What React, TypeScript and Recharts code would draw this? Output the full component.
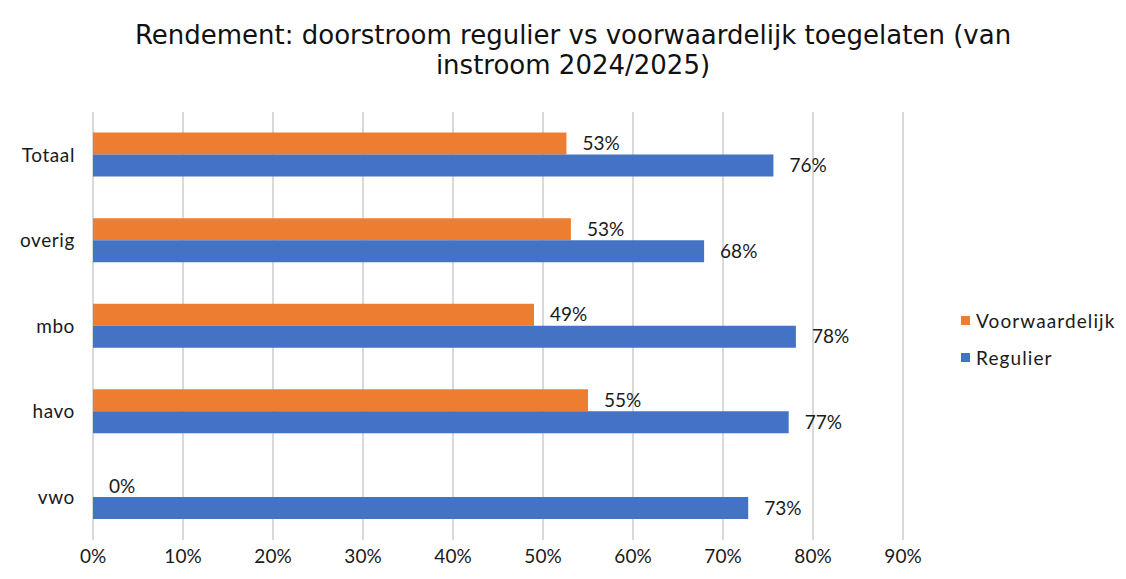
import React from "react";
import { BarChart, Bar, XAxis, YAxis, CartesianGrid, Legend, LabelList } from "recharts";

const categories = ["Totaal", "overig", "mbo", "havo", "vwo"];
const voorwaardelijk = [52.6, 53.1, 49.0, 55.0, 0];
const regulier = [75.6, 67.9, 78.1, 77.3, 72.8];
const xTicks = [0, 10, 20, 30, 40, 50, 60, 70, 80, 90];
const seriesNames = { voorwaardelijk: "Voorwaardelijk", regulier: "Regulier" };
const titleLines = ["Rendement: doorstroom regulier vs voorwaardelijk toegelaten (van", "instroom 2024/2025)"];

const data = categories.map((c, i) => ({
  name: c,
  voorwaardelijk: voorwaardelijk[i],
  regulier: regulier[i],
}));

const TITLE_FONT = "'DejaVu Sans', sans-serif";
const FONT = "Lato, sans-serif";
const ORANGE = "#ED7D31";
const BLUE = "#4472C4";
const TEXT = "#1a1a1a";
const LABEL_OFFSET = 16;

const LegendContent = () => (
  <div style={{ fontFamily: FONT, fontSize: 19, color: TEXT, letterSpacing: 1.1 }}>
    {[
      { name: seriesNames.voorwaardelijk, color: ORANGE },
      { name: seriesNames.regulier, color: BLUE },
    ].map((it) => (
      <div key={it.name} style={{ display: "flex", alignItems: "center", height: 37 }}>
        <span style={{ display: "inline-block", width: 9, height: 9, background: it.color, marginRight: 6 }} />
        <span>{it.name}</span>
      </div>
    ))}
  </div>
);

const fmt = (v: number) => `${Math.round(Number(v))}%`;

const ValueText = ({ x, y, value }: { x: number; y: number; value: number }) => (
  <text x={x} y={y} dy="0.35em" textAnchor="start" fontFamily={FONT} fontSize={19} fill={TEXT}>
    {fmt(value)}
  </text>
);

const OrangeLabel = (props: any) => {
  const { x, y, width, height, value } = props;
  if (value === undefined || value === null) return null;
  return <ValueText x={Number(x) + (Number(width) || 0) + LABEL_OFFSET} y={Number(y) + Number(height) / 2} value={value} />;
};

// Blue bar label; also renders the Voorwaardelijk label when that bar has zero length
// (Recharts skips zero-length bars, so their label would otherwise be lost).
const BlueLabel = (props: any) => {
  const { x, y, width, height, value, index } = props;
  if (value === undefined || value === null) return null;
  const h = Number(height);
  const zeroOrange = voorwaardelijk[index] === 0;
  return (
    <g>
      <ValueText x={Number(x) + (Number(width) || 0) + LABEL_OFFSET} y={Number(y) + h / 2} value={value} />
      {zeroOrange && <ValueText x={Number(x) + LABEL_OFFSET} y={Number(y) - h / 2} value={voorwaardelijk[index]} />}
    </g>
  );
};

export default function App() {
  return (
    <div style={{ position: "relative", width: 1126, height: 579, background: "#fff" }}>
      <style>{`body{margin:0}`}</style>
      <div
        style={{
          position: "absolute",
          left: 0,
          top: 20,
          width: 1146,
          textAlign: "center",
          fontFamily: TITLE_FONT,
          fontSize: 26,
          lineHeight: "30px",
          color: "#111",
        }}
      >
        {titleLines.map((l) => (
          <div key={l}>{l}</div>
        ))}
      </div>
      <BarChart
        width={1126}
        height={579}
        data={data}
        layout="vertical"
        margin={{ top: 112, right: 58, left: 13, bottom: 9 }}
        barCategoryGap="24%"
        barGap={0}
        style={{ position: "absolute", left: 0, top: 0 }}
      >
        <CartesianGrid horizontal={false} vertical stroke="#d9d9d9" strokeWidth={2} />
        <XAxis
          type="number"
          domain={[0, 90]}
          ticks={xTicks}
          tickFormatter={(v) => `${v}%`}
          axisLine={false}
          tickLine={false}
          tickSize={0}
          tickMargin={10}
          height={30}
          interval={0}
          tick={{ fontFamily: FONT, fontSize: 19, fill: TEXT }}
        />
        <YAxis
          type="category"
          dataKey="name"
          axisLine={false}
          tickLine={false}
          tickSize={0}
          tickMargin={18}
          width={80}
          tick={{ fontFamily: FONT, fontSize: 19, fill: TEXT, letterSpacing: 0.6 }}
        />
        <Legend
          layout="horizontal"
          verticalAlign="middle"
          align="right"
          content={<LegendContent />}
          wrapperStyle={{ left: 961, top: 302, width: 165 }}
        />
        <Bar dataKey="voorwaardelijk" name={seriesNames.voorwaardelijk} fill={ORANGE} isAnimationActive={false}>
          <LabelList dataKey="voorwaardelijk" content={<OrangeLabel />} />
        </Bar>
        <Bar dataKey="regulier" name={seriesNames.regulier} fill={BLUE} isAnimationActive={false}>
          <LabelList dataKey="regulier" content={<BlueLabel />} />
        </Bar>
      </BarChart>
    </div>
  );
}
